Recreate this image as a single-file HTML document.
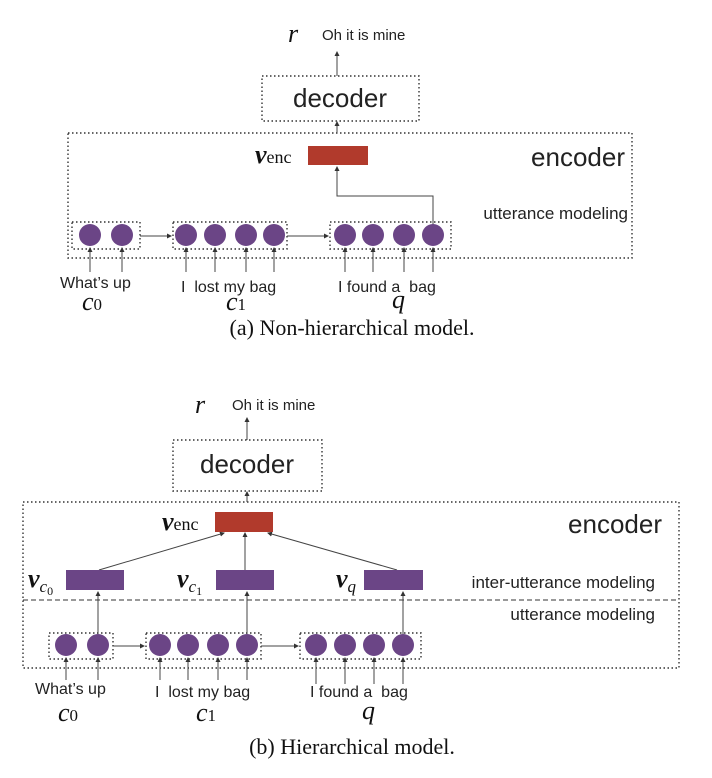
<!DOCTYPE html>
<html><head><meta charset="utf-8"><style>
html,body{margin:0;padding:0;background:#fff;}
svg{display:block;}
.s{font-family:"Liberation Sans",sans-serif;fill:#222;}
.m{font-family:"Liberation Serif",serif;font-style:italic;fill:#111;}
.mb{font-family:"Liberation Serif",serif;font-style:italic;font-weight:bold;fill:#111;}
.r{font-family:"Liberation Serif",serif;fill:#111;}
</style></head><body>
<svg width="712" height="778" viewBox="0 0 712 778" xmlns="http://www.w3.org/2000/svg">
<defs><marker id="a" markerWidth="5" markerHeight="5" refX="4" refY="2.5" orient="auto"><path d="M0,0L5,2.5L0,5z" fill="#333"/></marker></defs>
<g stroke="#333" stroke-width="1.4" stroke-dasharray="1.5 2.5" fill="none">
<rect x="262" y="76" width="157" height="45"/>
<rect x="68" y="133" width="564" height="125"/>
<rect x="72" y="222" width="68" height="27"/>
<rect x="173" y="222" width="114" height="27"/>
<rect x="330" y="222" width="121" height="27"/>
<rect x="173" y="440" width="149" height="51"/>
<rect x="23" y="502" width="656" height="166"/>
<rect x="49" y="633" width="64" height="26"/>
<rect x="146" y="633" width="115" height="26"/>
<rect x="300" y="633" width="121" height="26"/>
</g>
<line x1="23" y1="600" x2="679" y2="600" stroke="#333" stroke-width="1" stroke-dasharray="5 3"/>
<g stroke="#444" stroke-width="1" fill="none" marker-end="url(#a)">
<line x1="337" y1="76" x2="337" y2="52"/>
<line x1="337" y1="133" x2="337" y2="122"/>
<polyline points="433,225 433,196 337,196 337,167"/>
<line x1="140" y1="236" x2="171" y2="236"/>
<line x1="287" y1="236" x2="328" y2="236"/>
<line x1="90" y1="272" x2="90" y2="248"/><line x1="122" y1="272" x2="122" y2="248"/>
<line x1="186" y1="272" x2="186" y2="248"/><line x1="215" y1="272" x2="215" y2="248"/><line x1="246" y1="272" x2="246" y2="248"/><line x1="274" y1="272" x2="274" y2="248"/>
<line x1="345" y1="272" x2="345" y2="248"/><line x1="373" y1="272" x2="373" y2="248"/><line x1="404" y1="272" x2="404" y2="248"/><line x1="433" y1="272" x2="433" y2="248"/>
<line x1="247" y1="440" x2="247" y2="418"/>
<line x1="247" y1="502" x2="247" y2="492"/>
<line x1="99" y1="570" x2="224" y2="533"/>
<line x1="245" y1="570" x2="245" y2="533"/>
<line x1="397" y1="570" x2="268" y2="533"/>
<line x1="98" y1="634" x2="98" y2="592"/>
<line x1="247" y1="634" x2="247" y2="592"/>
<line x1="403" y1="634" x2="403" y2="592"/>
<line x1="113" y1="646" x2="144" y2="646"/>
<line x1="261" y1="646" x2="298" y2="646"/>
<line x1="66" y1="680" x2="66" y2="658"/><line x1="98" y1="680" x2="98" y2="658"/>
<line x1="160" y1="680" x2="160" y2="658"/><line x1="188" y1="680" x2="188" y2="658"/><line x1="218" y1="680" x2="218" y2="658"/><line x1="247" y1="680" x2="247" y2="658"/>
<line x1="316" y1="684" x2="316" y2="658"/><line x1="345" y1="684" x2="345" y2="658"/><line x1="374" y1="684" x2="374" y2="658"/><line x1="403" y1="684" x2="403" y2="658"/>
</g>
<g fill="#6b4586">
<circle cx="90" cy="235" r="11"/><circle cx="122" cy="235" r="11"/>
<circle cx="186" cy="235" r="11"/><circle cx="215" cy="235" r="11"/><circle cx="246" cy="235" r="11"/><circle cx="274" cy="235" r="11"/>
<circle cx="345" cy="235" r="11"/><circle cx="373" cy="235" r="11"/><circle cx="404" cy="235" r="11"/><circle cx="433" cy="235" r="11"/>
<circle cx="66" cy="645" r="11"/><circle cx="98" cy="645" r="11"/>
<circle cx="160" cy="645" r="11"/><circle cx="188" cy="645" r="11"/><circle cx="218" cy="645" r="11"/><circle cx="247" cy="645" r="11"/>
<circle cx="316" cy="645" r="11"/><circle cx="345" cy="645" r="11"/><circle cx="374" cy="645" r="11"/><circle cx="403" cy="645" r="11"/>
<rect x="66" y="570" width="58" height="20"/><rect x="216" y="570" width="58" height="20"/><rect x="364" y="570" width="59" height="20"/>
</g>
<rect x="308" y="146" width="60" height="19" fill="#b13a2c"/>
<rect x="215" y="512" width="58" height="20" fill="#b13a2c"/>
<text class="m" x="288" y="42" font-size="26">r</text>
<text class="s" x="322" y="40" font-size="15">Oh it is mine</text>
<text class="s" x="340" y="107" font-size="26" text-anchor="middle">decoder</text>
<text class="mb" x="255" y="163" font-size="26">v<tspan class="r" font-style="normal" font-weight="normal" font-size="18">enc</tspan></text>
<text class="s" x="625" y="166" font-size="26" text-anchor="end">encoder</text>
<text class="s" x="628" y="219" font-size="17" text-anchor="end">utterance modeling</text>
<text class="s" x="60" y="288" font-size="16">What’s up</text>
<text class="s" x="181" y="292" font-size="16">I&#160;&#160;lost my&#160;bag</text>
<text class="s" x="338" y="292" font-size="16">I found&#160;a&#160;&#160;bag</text>
<text class="m" x="82" y="310" font-size="26">c<tspan font-style="normal" font-size="17">0</tspan></text>
<text class="m" x="226" y="310" font-size="26">c<tspan font-style="normal" font-size="17">1</tspan></text>
<text class="m" x="392" y="308" font-size="26">q</text>
<text class="r" x="352" y="335" font-size="22" text-anchor="middle">(a) Non-hierarchical model.</text>
<text class="m" x="195" y="413" font-size="26">r</text>
<text class="s" x="232" y="410" font-size="15">Oh it is mine</text>
<text class="s" x="247" y="473" font-size="26" text-anchor="middle">decoder</text>
<text class="mb" x="162" y="530" font-size="26">v<tspan class="r" font-style="normal" font-weight="normal" font-size="18">enc</tspan></text>
<text class="s" x="662" y="533" font-size="26" text-anchor="end">encoder</text>
<text class="mb" x="28" y="587" font-size="26">v<tspan class="m" font-weight="normal" font-size="17" dy="5">c</tspan><tspan class="r" font-weight="normal" font-style="normal" font-size="12" dy="3">0</tspan></text>
<text class="mb" x="177" y="587" font-size="26">v<tspan class="m" font-weight="normal" font-size="17" dy="5">c</tspan><tspan class="r" font-weight="normal" font-style="normal" font-size="12" dy="3">1</tspan></text>
<text class="mb" x="336" y="587" font-size="26">v<tspan class="m" font-weight="normal" font-size="17" dy="5">q</tspan></text>
<text class="s" x="655" y="588" font-size="17" text-anchor="end">inter-utterance modeling</text>
<text class="s" x="655" y="620" font-size="17" text-anchor="end">utterance modeling</text>
<text class="s" x="35" y="694" font-size="16">What’s up</text>
<text class="s" x="155" y="697" font-size="16">I&#160;&#160;lost my&#160;bag</text>
<text class="s" x="310" y="697" font-size="16">I found&#160;a&#160;&#160;bag</text>
<text class="m" x="58" y="721" font-size="26">c<tspan font-style="normal" font-size="17">0</tspan></text>
<text class="m" x="196" y="721" font-size="26">c<tspan font-style="normal" font-size="17">1</tspan></text>
<text class="m" x="362" y="719" font-size="26">q</text>
<text class="r" x="352" y="754" font-size="22" text-anchor="middle">(b) Hierarchical model.</text>
</svg>
</body></html>
